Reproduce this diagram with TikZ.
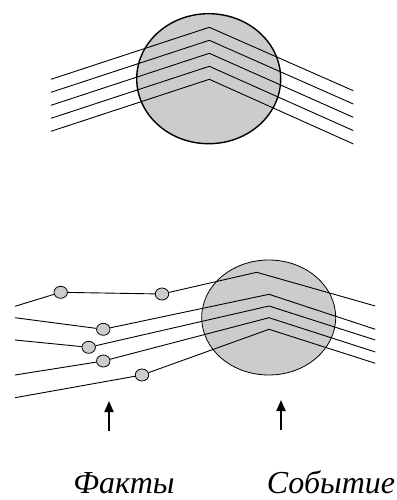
\documentclass[tikz,border=0pt]{standalone}
\usepackage{fontspec}
\setmainfont{Liberation Serif}
\usetikzlibrary{shapes.geometric,arrows.meta}
\begin{document}
\begin{tikzpicture}[x=1pt,y=-1pt,
  ray/.style={draw=black,line width=0.9pt,line join=miter},
  blob/.style={ellipse,draw=black,fill=black!20,line width=0.8pt,minimum width=13.5pt,minimum height=12pt,inner sep=0pt},
  uparrow/.style={line width=2pt,-{Triangle[width=9pt,length=11pt]}},
  caption/.style={anchor=base,font=\itshape\fontsize{32}{36}\selectfont,inner sep=0pt}]
\useasboundingbox (0,0) rectangle (396,500);
% ---------- top picture ----------
\fill[black!20] (208.7,78.7) ellipse [x radius=72, y radius=65];
\draw[line width=1.4pt] (208.7,78.7) ellipse [x radius=72, y radius=65];
\foreach \i in {0,...,4}{
  \coordinate (tl\i) at (51,{79.3+13*\i});
  \coordinate (ta\i) at (209.3,{27.3+13*\i});
  \coordinate (tr\i) at (353.3,{90.7+13.3*\i});
  \draw[ray] (tl\i) -- (ta\i) -- (tr\i);
}
% ---------- bottom picture ----------
\fill[black!20] (268.7,317.5) ellipse [x radius=67, y radius=57.5];
\draw[line width=0.8pt] (268.7,317.5) ellipse [x radius=67, y radius=57.5];
\node[blob] (c1a) at (60.7,292.3) {};
\node[blob] (c1b) at (162,294) {};
\node[blob] (c2) at (103.3,329.3) {};
\node[blob] (c3) at (88.7,347.3) {};
\node[blob] (c4) at (103.3,361) {};
\node[blob] (c5) at (142,375) {};
\coordinate (l1) at (15,306.3);
\coordinate (l2) at (15,317.7);
\coordinate (l3) at (15,340);
\coordinate (l4) at (15,375);
\coordinate (l5) at (15,397.7);
\coordinate (a1) at (256.7,272.3);
\coordinate (a2) at (269,294.3);
\coordinate (a3) at (269,306);
\coordinate (a4) at (269,317.7);
\coordinate (a5) at (269,329.3);
\coordinate (r1) at (375.3,306);
\coordinate (r2) at (375.3,329.3);
\coordinate (r3) at (375.3,340);
\coordinate (r4) at (375.3,352);
\coordinate (r5) at (375.3,363.3);
\draw[ray] (l1) -- (c1a) -- (c1b) -- (a1) -- (r1);
\draw[ray] (l2) -- (c2) -- (a2) -- (r2);
\draw[ray] (l3) -- (c3) -- (a3) -- (r3);
\draw[ray] (l4) -- (c4) -- (a4) -- (r4);
\draw[ray] (l5) -- (c5) -- (a5) -- (r5);
% ---------- arrows and captions ----------
\coordinate (f0) at (109,431);
\coordinate (f1) at (109,401);
\coordinate (e0) at (281,430);
\coordinate (e1) at (281,400);
\draw[uparrow] (f0) -- (f1);
\draw[uparrow] (e0) -- (e1);
\node[caption] (facts) at (124,493) {Факты};
\node[caption] (event) at (331,493) {Событие};
\end{tikzpicture}
\end{document}
